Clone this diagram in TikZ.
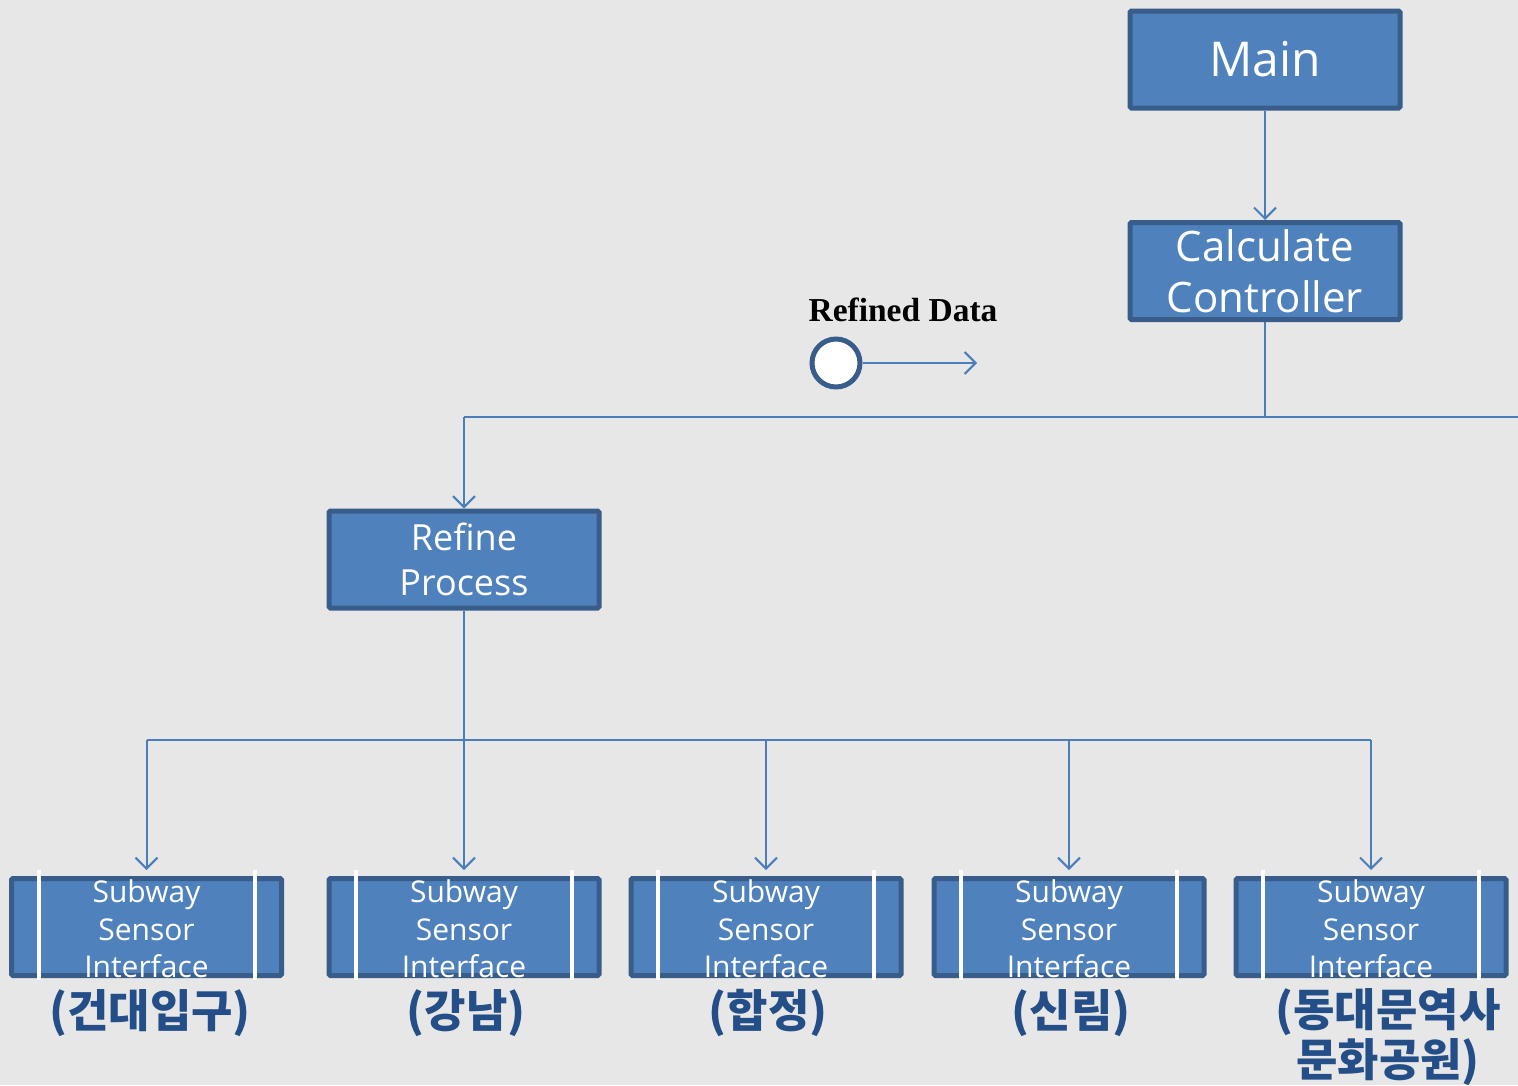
\documentclass[tikz,border=0pt]{standalone}
\usepackage{fontspec}
\setmainfont{Open Sans}
\newfontfamily\kofont{Noto Sans CJK KR}
\newfontfamily\serifbold{Liberation Serif}
\usetikzlibrary{arrows.meta,positioning,calc}
\definecolor{boxfill}{HTML}{4F81BD}
\definecolor{boxline}{HTML}{385D8A}
\definecolor{conn}{HTML}{4A7EBB}
\definecolor{kotext}{RGB}{36,78,135}
\definecolor{bg}{HTML}{E7E7E7}
\tikzset{
  blockbox/.style={draw=boxline, fill=boxfill, line width=5pt, rounded corners=1.5pt, minimum width=270pt, minimum height=97pt, inner sep=0pt, text=white, align=center},
  conline/.style={draw=conn, line width=2pt},
  arr/.style={conline, -{Straight Barb[length=11pt,width=22pt,line width=2pt]}},
  ssitext/.style={text=white, align=center, font=\fontsize{30}{37.5}\selectfont},
  kolabel/.style={text=kotext, align=center, font=\kofont\bfseries\fontsize{45}{50}\selectfont},
  whitebar/.style={draw=white, line width=4pt}
}
\begin{document}
\begin{tikzpicture}[x=1pt,y=-1pt]
\fill[bg] (0,0) rectangle (1518,1085);
\useasboundingbox (0,0) rectangle (1518,1085);

\node[blockbox, font=\fontsize{48}{56}\selectfont] (main) at (1265,59.5) {Main};
\node[blockbox, font=\fontsize{42}{50}\selectfont] (calc) at (1265,271) {Calculate\\[1pt]Controller};
\node[blockbox, font=\fontsize{36}{45}\selectfont] (refine) at (464,559.5) {Refine\\Process};

\foreach \n/\x in {1/146.5,2/464,3/766,4/1069,5/1371}{
  \node[blockbox] (ssi\n) at (\x,927) {};
  \draw[whitebar] ([xshift=29.5pt,yshift=6.5pt]ssi\n.north west) -- ([xshift=29.5pt,yshift=-1.5pt]ssi\n.south west);
  \draw[whitebar] ([xshift=-29.5pt,yshift=6.5pt]ssi\n.north east) -- ([xshift=-29.5pt,yshift=-1.5pt]ssi\n.south east);
  \node[ssitext] (ssit\n) at (\x,929) {Subway\\Sensor\\Interface};
}

\node[kolabel] (k1) at (150,1013) {(건대입구)};
\node[kolabel] (k2) at (466,1013) {(강남)};
\node[kolabel] (k3) at (768,1013) {(합정)};
\node[kolabel] (k4) at (1071,1013) {(신림)};
\node[kolabel] (k5) at (1388,1037.5) {(동대문역사\\문화공원)};

% Refined data legend
\node[font=\serifbold\bfseries\fontsize{33.5}{36}\selectfont] (rdl) at (903,310) {Refined Data};
\node[circle, draw=boxline, fill=white, line width=5pt, minimum size=48pt, inner sep=0pt] (rdc) at (836,363) {};
\coordinate (rde) at (977,363);
\draw[arr] (rdc.east) -- (rde);

% connectors
\draw[arr] (main.south) -- (calc.north);
\coordinate (busL) at (464,417);
\coordinate (busR) at (1518,417);
\draw[conline] (calc.south) -- (calc.south |- busR);
\draw[conline] (busL) -- (busR);
\draw[arr] (busL) -- (refine.north);

\coordinate (bus2L) at (146.5,740);
\coordinate (bus2R) at (1371,740);
\draw[conline] (refine.south) -- (refine.south |- bus2L);
\draw[conline] (bus2L) -- (bus2R);
\foreach \n in {1,...,5}{
  \draw[arr] (ssi\n.north |- bus2L) -- ([yshift=6pt]ssi\n.north);
}
\end{tikzpicture}
\end{document}
